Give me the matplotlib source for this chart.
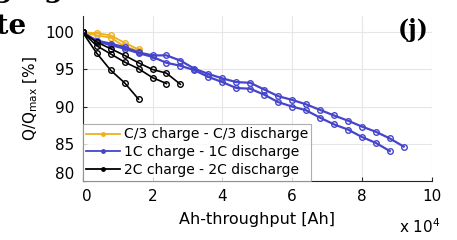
import matplotlib
matplotlib.use("Agg")
import matplotlib.pyplot as plt
import matplotlib.transforms as mtransforms
from matplotlib.lines import Line2D
import numpy as np

# Ah-throughput step between checkups [Ah]
step = 4000

# capacity retention [%] per cell
c3_cell1 = [100, 99.9, 99.6, 98.6, 97.7]
c3_cell2 = [100, 99.6, 99.3, 98.1, 97.5]
c1_cell1 = [100, 98.9, 98.5, 98.0, 97.3, 96.9, 96.9, 96.2, 95.1, 94.4, 93.8, 93.3,
            93.2, 92.3, 91.4, 90.9, 90.3, 89.55, 88.8, 88.1, 87.3, 86.6, 85.7, 84.6]
c1_cell2 = [100, 98.8, 98.3, 97.8, 97.2, 96.7, 95.9, 95.5, 94.9, 94.0, 93.3, 92.5,
            92.4, 91.6, 90.6, 90.0, 89.5, 88.5, 87.6, 86.9, 85.9, 85.1, 84.0]
c2_cell1 = [100, 97.2, 94.9, 93.2, 91.0]
c2_cell2 = [100, 98.2, 97.1, 96.0, 95.1, 93.9, 93.1]
c2_cell3 = [100, 98.7, 97.8, 96.9, 95.9, 95.0, 94.5, 93.0]

labels = ["C/3 charge - C/3 discharge", "1C charge - 1C discharge", "2C charge - 2C discharge"]
colors = ["#EDB120", "#4545CC", "#000000"]
groups = [[c3_cell1, c3_cell2], [c1_cell1, c1_cell2], [c2_cell1, c2_cell2, c2_cell3]]

xticks = [0, 2, 4, 6, 8, 10]
yticks = [80, 85, 90, 95, 100]

plt.rcParams["font.family"] = ["DejaVu Sans"]
plt.rcParams["mathtext.fontset"] = "dejavusans"

fig = plt.figure(figsize=(4.57, 2.4), dpi=100)
ax = fig.add_axes([0.181, 0.247, 0.9446 - 0.181, 0.933 - 0.247])

for cells, col, lw in zip(groups, colors, [1.3, 1.6, 1.2]):
    for q in cells:
        x = np.arange(len(q)) * step / 1e4
        ax.plot(x, q, color=col, lw=lw, marker="o", ms=4, mfc="none", mew=1.0)

ax.set_xlim(0, 10)
ax.set_ylim(80, 102.2)
ax.set_xticks(xticks)
ax.set_yticks(yticks)
ax.grid(True, color="#e6e6e6", lw=0.8)
ax.set_axisbelow(True)
for s in ["top", "right"]:
    ax.spines[s].set_visible(False)
for s in ["left", "bottom"]:
    ax.spines[s].set_color("#262626")
    ax.spines[s].set_linewidth(0.8)
ax.tick_params(direction="in", length=3, width=0.8, labelsize=11, colors="#262626",
               labelcolor="black", pad=6)

# nudge corner labels like the original
off = mtransforms.ScaledTranslation(4 / 100, 0, fig.dpi_scale_trans)
t0 = ax.xaxis.get_major_ticks()[0].label1
t0.set_transform(t0.get_transform() + off)
off2 = mtransforms.ScaledTranslation(0, 8 / 100, fig.dpi_scale_trans)
t80 = ax.yaxis.get_major_ticks()[0].label1
t80.set_transform(t80.get_transform() + off2)

ax.set_xlabel("Ah-throughput [Ah]", fontsize=11.5, labelpad=6)
ax.set_ylabel(r"Q/Q$_{\mathrm{max}}$ [%]", fontsize=11, labelpad=4)
fig.text(0.965, 0.015, r"x 10$^4$", fontsize=11, ha="right", va="bottom")
ax.text(0.99, 0.99, "(j)", transform=ax.transAxes, fontsize=17, fontweight="bold",
        family="DejaVu Serif", ha="right", va="top")

# clipped title of the neighbouring panel
fig.text(0.058, 0.86, "Rate", fontsize=20, fontweight="bold", family="DejaVu Serif",
         ha="right", va="baseline")
fig.text(0.14, 1.012, "charging", fontsize=20, fontweight="bold", family="DejaVu Serif",
         ha="right", va="baseline")

handles = [Line2D([], [], color=c, lw=1.3, marker=".", ms=5) for c in colors]
leg = ax.legend(handles, labels, loc="lower left", bbox_to_anchor=(0, 0), borderaxespad=0,
                fontsize=10, frameon=True, fancybox=False, handlelength=2.4,
                handletextpad=0.3, labelspacing=0.28, borderpad=0.25)
leg.get_frame().set_edgecolor("#9a9a9a")
leg.get_frame().set_linewidth(0.8)

fig.savefig("out.png", dpi=100)
